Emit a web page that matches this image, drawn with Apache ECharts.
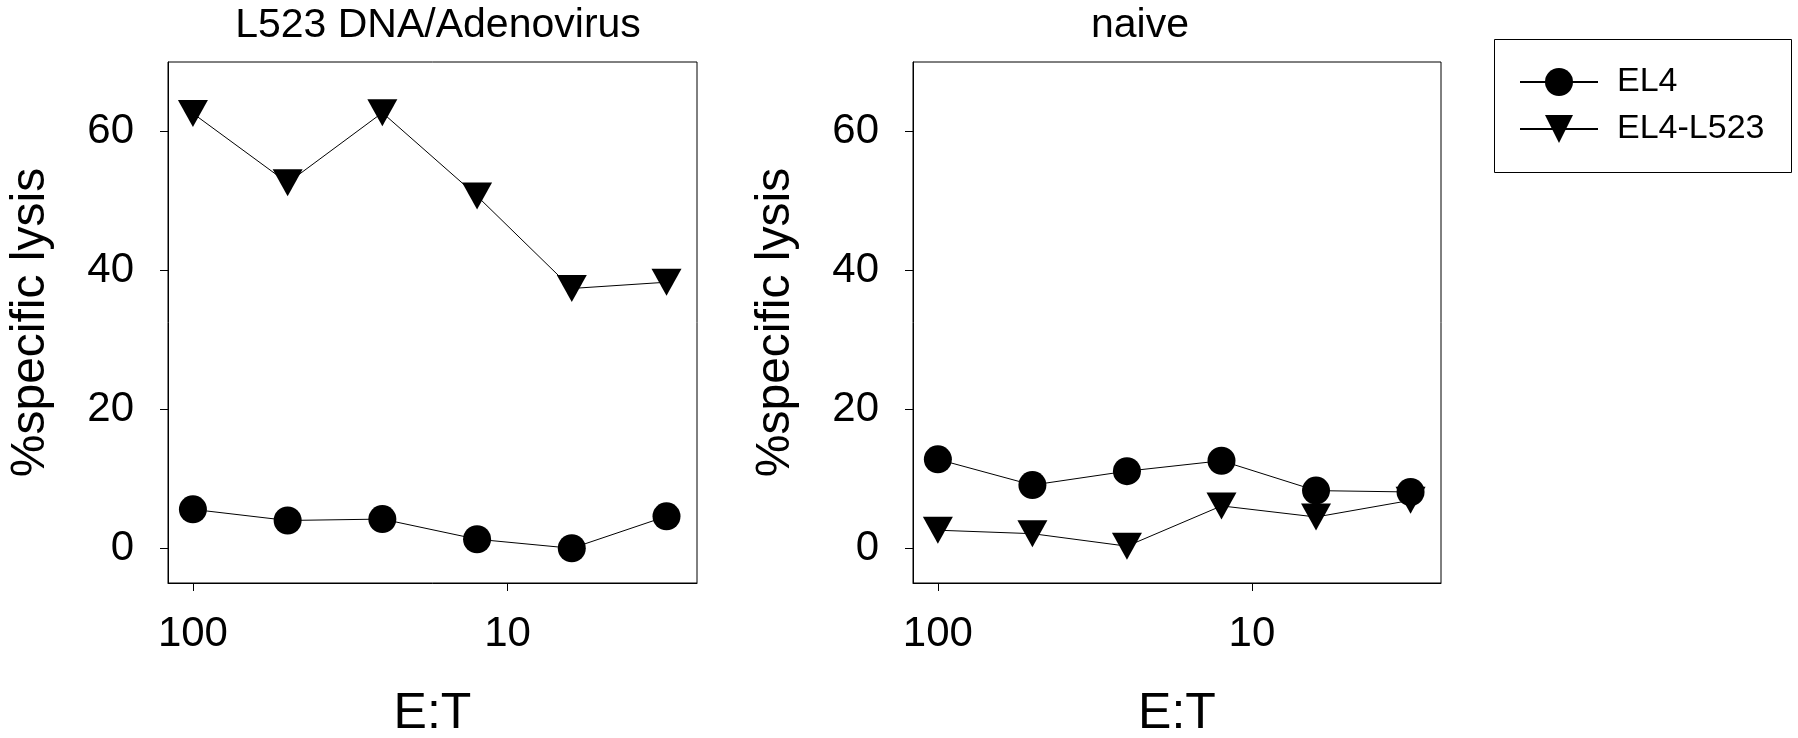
<!DOCTYPE html>
<html>
<head>
<meta charset="utf-8">
<script src="https://cdn.jsdelivr.net/npm/echarts@6/dist/echarts.min.js"></script>
<style>
  html, body { margin: 0; padding: 0; background: #fff; }
  #chart { width: 1798px; height: 738px; }
</style>
</head>
<body>
<div id="chart"></div>
<script>
// E:T ratios (log axis, reversed)
var etRatios = [100, 50, 25, 12.5, 6.25, 3.125];
var xTickValues = [100, 10];
var yTickValues = [0, 20, 40, 60];

// L523 DNA/Adenovirus panel
var adenoEL4 = [5.6, 4.0, 4.2, 1.3, 0.0, 4.6];
var adenoL523 = [62.6, 52.6, 62.7, 50.7, 37.4, 38.3];

// naive panel
var naiveEL4 = [12.8, 9.1, 11.1, 12.6, 8.3, 8.1];
var naiveL523 = [2.6, 2.1, 0.3, 6.1, 4.5, 6.9];

var panelTitles = ['L523 DNA/Adenovirus', 'naive'];

var font = "'Liberation Sans', Arial, Helvetica, sans-serif";

function pairs(ys) {
    return etRatios.map(function (x, i) { return [x, ys[i]]; });
}

function xAxisFor(idx) {
    return {
        type: 'log',
        logBase: 10,
        gridIndex: idx,
        min: 2.5,
        max: 120,
        inverse: true,
        name: 'E:T',
        nameLocation: 'middle',
        nameGap: 106,
        nameTextStyle: { fontSize: 50, color: '#000', fontFamily: font },
        axisLine: { show: true, onZero: false, lineStyle: { color: '#000', width: 1 } },
        axisTick: { show: true, inside: false, length: 8, customValues: xTickValues, lineStyle: { color: '#000' } },
        axisLabel: { customValues: xTickValues, margin: 30, fontSize: 42, color: '#000', fontFamily: font },
        splitLine: { show: false },
        minorTick: { show: false }
    };
}

function yAxisFor(idx) {
    return {
        type: 'value',
        gridIndex: idx,
        min: -5,
        max: 70,
        name: '%specific lysis',
        nameLocation: 'middle',
        nameRotate: 90,
        nameGap: 113,
        nameTextStyle: { fontSize: 48, color: '#000', fontFamily: font },
        axisLine: { show: true, onZero: false, lineStyle: { color: '#000', width: 1 } },
        axisTick: { show: true, inside: false, length: 8, customValues: yTickValues, lineStyle: { color: '#000' } },
        axisLabel: { customValues: yTickValues, margin: 34, fontSize: 42, color: '#000', fontFamily: font },
        splitLine: { show: false }
    };
}

function circleSeries(idx, ys) {
    return {
        name: 'EL4',
        type: 'line',
        xAxisIndex: idx,
        yAxisIndex: idx,
        data: pairs(ys),
        symbol: 'circle',
        symbolSize: 28,
        itemStyle: { color: '#000' },
        lineStyle: { color: '#000', width: 1 },
        z: 3
    };
}

function triangleSeries(idx, ys) {
    return {
        name: 'EL4-L523',
        type: 'line',
        xAxisIndex: idx,
        yAxisIndex: idx,
        data: pairs(ys),
        symbol: 'triangle',
        symbolRotate: 180,
        symbolSize: [30, 27],
        itemStyle: { color: '#000' },
        lineStyle: { color: '#000', width: 1 },
        z: 2
    };
}

var myChart = echarts.init(document.getElementById('chart'));

var option = {
    animation: false,
    backgroundColor: '#fff',
    textStyle: { fontFamily: font, color: '#000' },
    title: [
        { text: panelTitles[0], left: 438, top: 5, padding: 0, textAlign: 'center',
          textStyle: { fontSize: 41, fontWeight: 'normal', color: '#000', fontFamily: font } },
        { text: panelTitles[1], left: 1140, top: 5, padding: 0, textAlign: 'center',
          textStyle: { fontSize: 41, fontWeight: 'normal', color: '#000', fontFamily: font } }
    ],
    legend: {
        data: ['EL4', 'EL4-L523'],
        orient: 'vertical',
        left: 1519,
        top: 65,
        padding: 0,
        itemWidth: 78,
        itemHeight: 35,
        itemGap: 13,
        textStyle: { fontSize: 34, color: '#000', fontFamily: font, padding: [0, 0, 0, 14] }
    },
    graphic: [
        { type: 'rect', shape: { x: 1494.5, y: 39.5, width: 297, height: 133 },
          style: { fill: 'none', stroke: '#000', lineWidth: 1 } }
    ],
    grid: [
        { left: 168, top: 62, width: 529, height: 521, outerBoundsMode: 'none', containLabel: false,
          show: true, borderColor: '#000', borderWidth: 1, backgroundColor: 'transparent' },
        { left: 913, top: 62, width: 528, height: 521, outerBoundsMode: 'none', containLabel: false,
          show: true, borderColor: '#000', borderWidth: 1, backgroundColor: 'transparent' }
    ],
    xAxis: [xAxisFor(0), xAxisFor(1)],
    yAxis: [yAxisFor(0), yAxisFor(1)],
    series: [
        circleSeries(0, adenoEL4),
        triangleSeries(0, adenoL523),
        circleSeries(1, naiveEL4),
        triangleSeries(1, naiveL523)
    ]
};

myChart.setOption(option);
</script>
</body>
</html>
